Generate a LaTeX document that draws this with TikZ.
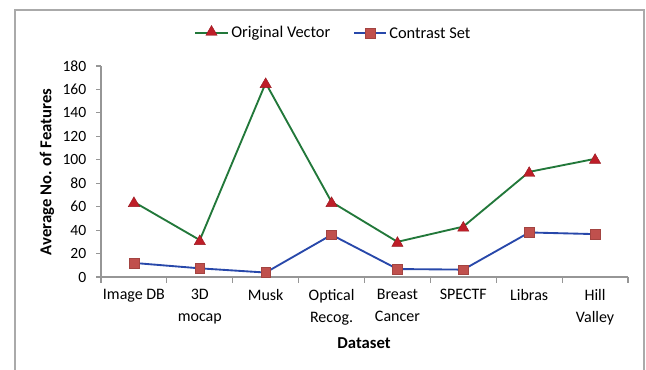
\documentclass[tikz,border=0pt]{standalone}
\usepackage{fontspec}
\setmainfont{Carlito}
\usetikzlibrary{shapes.geometric}
\definecolor{framegray}{RGB}{170,170,170}
\definecolor{axisgray}{RGB}{150,150,150}
\definecolor{ovgreen}{RGB}{34,120,58}
\definecolor{csblue}{RGB}{40,72,170}
\definecolor{trired}{RGB}{190,30,40}
\definecolor{sqred}{RGB}{192,80,77}
\tikzset{
  tri/.style={regular polygon, regular polygon sides=3, fill=trired, draw=trired!80!black, line width=0.3pt, inner sep=0pt, minimum size=9.8pt},
  sq/.style={rectangle, fill=sqred, draw=sqred!85!black, line width=0.3pt, inner sep=0pt, minimum size=7.3pt},
  ovline/.style={ovgreen, line width=1.4pt},
  csline/.style={csblue, line width=1.4pt},
  axisline/.style={axisgray, line width=0.8pt},
  ticklab/.style={font=\fontsize{11.7}{13}\selectfont, inner sep=0pt},
  catlab/.style={font=\fontsize{12}{16.3}\selectfont, align=center, inner sep=0pt, anchor=north},
  legtext/.style={font=\fontsize{12.3}{14}\selectfont, inner sep=0pt, anchor=west},
  axtitle/.style={font=\bfseries\fontsize{12.5}{14}\selectfont, inner sep=0pt}
}
\begin{document}
\begin{tikzpicture}[x=0.75pt,y=-0.75pt]
\useasboundingbox (0,0) rectangle (646,369);
% frame
\draw[framegray, line width=1.2] (15,375) -- (15,10) -- (644,10) -- (644,375);
% axes
\draw[axisline] (101,66) -- (101,277) -- (628,277);
\foreach \v in {0,20,...,180} {
  \pgfmathsetmacro{\yy}{277-\v*1.172222}
  \draw[axisline] (96,\yy) -- (101,\yy);
  \node[ticklab, anchor=east] (yl\v) at (86.5,\yy) {\v};
}
\foreach \i in {0,...,8} {
  \pgfmathsetmacro{\xx}{101+\i*65.875}
  \draw[axisline] (\xx,277) -- (\xx,283);
}
% category labels
\foreach \i/\t in {1/Image DB,2/3D\\mocap,3/Musk,4/Optical\\Recog.,5/Breast\\Cancer,6/SPECTF,7/Libras,8/Hill\\Valley} {
  \pgfmathsetmacro{\xx}{101+(\i-0.5)*65.875}
  \node[catlab] (c\i) at (\xx,289) {\t};
}
\node[axtitle, rotate=90] (ytitle) at (47,172) {Average No. of Features};
\node[axtitle] (xtitle) at (364,343) {Dataset};
% data coordinates
\foreach \i/\o/\c in {1/64/12,2/31.5/7.4,3/165.5/3.8,4/64/36,5/30/6.8,6/43/6.3,7/89.7/38,8/100.8/36.6} {
  \pgfmathsetmacro{\xx}{101+(\i-0.5)*65.875}
  \pgfmathsetmacro{\yo}{277-\o*1.172222}
  \pgfmathsetmacro{\yc}{277-\c*1.172222}
  \coordinate (o\i) at (\xx,\yo);
  \coordinate (s\i) at (\xx,\yc);
}
\draw[ovline] (o1) -- (o2) -- (o3) -- (o4) -- (o5) -- (o6) -- (o7) -- (o8);
\draw[csline] (s1) -- (s2) -- (s3) -- (s4) -- (s5) -- (s6) -- (s7) -- (s8);
\foreach \i in {1,...,8} {
  \node[tri] (mo\i) at ([yshift=-1]o\i) {};
  \node[sq] (ms\i) at (s\i) {};
}
% legend
\coordinate (la) at (195,33);
\coordinate (lb) at (228,33);
\draw[ovline] (la) -- (lb);
\node[tri] (lt) at (211.5,32) {};
\node[legtext] (ltxt) at (231,33) {Original Vector};
\coordinate (lc) at (354,33);
\coordinate (ld) at (386,33);
\draw[csline] (lc) -- (ld);
\node[sq] (ls) at (370,33) {};
\node[legtext] (lstxt) at (389,33) {Contrast Set};
\end{tikzpicture}
\end{document}
